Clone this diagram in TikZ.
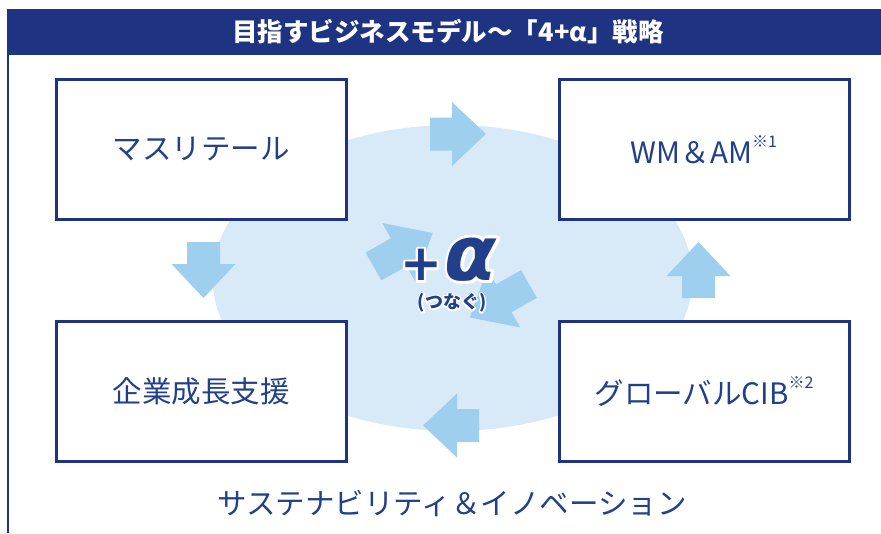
\documentclass[tikz,border=0pt]{standalone}
\usepackage{fontspec}
\setmainfont{Noto Sans CJK JP}
\newfontfamily\alphafont{DejaVu Sans}
\definecolor{navy}{HTML}{1E3482}
\definecolor{txtnavy}{HTML}{22408A}
\definecolor{ellfill}{HTML}{D8EAF7}
\definecolor{arrfill}{HTML}{9FCFEE}
\newcommand\haloed[2]{\special{pdf:literal direct 1 Tr #1 w 1 j 1 J 1 1 1 RG}\rlap{#2}\special{pdf:literal direct 0 Tr 0.4 w}#2}
\tikzset{
  box/.style={draw=navy, line width=3pt, fill=white, minimum width=290pt, minimum height=140pt, inner sep=0pt, text=txtnavy, font=\fontsize{29.5}{30}\selectfont},
  fatarrow/.pic={\fill[arrfill] (0,-16.5) -- (22,-16.5) -- (22,-32) -- (56,0) -- (22,32) -- (22,16.5) -- (0,16.5) -- cycle;},
  diagarrow/.pic={\fill[arrfill] (0,-16) -- (29,-16) -- (29,-33.5) -- (68,0) -- (29,33.5) -- (29,16) -- (0,16) -- cycle;},
  core/.style={text=txtnavy, inner sep=0pt}
}
\begin{document}
\begin{tikzpicture}[x=1pt,y=-1pt]
\useasboundingbox (0,0) rectangle (881,533);
% background ellipse
\fill[ellfill] (452.5,278) ellipse [x radius=240, y radius=153];
% header and frame
\fill[navy] (7,9) rectangle (881,55);
\draw[navy, line width=2pt] (8,55) -- (8,533);
\node[text=white, font=\fontsize{25.5}{26}\selectfont\bfseries, inner sep=0pt] (title) at (448,32) {目指すビジネスモデル～「4+α」戦略};
% boxes
\node[box] (mass) at (201,149.5) {マスリテール};
\node[box] (wm) at (704,149.5) {WM＆AM\raisebox{0.55em}{\fontsize{16}{16}\selectfont ※1}};
\node[box] (corp) at (201,391.5) {企業成長支援};
\node[box] (cib) at (704,391.5) {グローバルCIB\raisebox{0.55em}{\fontsize{16}{16}\selectfont ※2}};
% arrows
\pic at (430,134) {fatarrow};
\pic[rotate=-90] at (203.5,242) {fatarrow};
\pic[rotate=90] at (698.5,298) {fatarrow};
\pic[rotate=180] at (479,425.5) {fatarrow};
\pic[rotate=29.5] at (373.5,266.5) {diagarrow};
\pic[rotate=209.5] at (529,284) {diagarrow};
% bottom text
\node[text=txtnavy, font=\fontsize{29.5}{30}\selectfont, inner sep=0pt] (sust) at (452,503) {サステナビリティ＆イノベーション};
% +alpha text with white halo
\node[core, font=\alphafont\bfseries\fontsize{50}{50}\selectfont] (plus) at (421,265) {\haloed{5}{+}};
\node[core, font=\alphafont\bfseries\itshape\fontsize{76}{76}\selectfont, text depth=0pt, anchor=base] (alpha) at (471,280) {\haloed{6}{α}};
\node[core, font=\bfseries\fontsize{18}{18}\selectfont] (tsunagu) at (452,303) {\haloed{3}{(つなぐ)}};
\end{tikzpicture}
\end{document}
